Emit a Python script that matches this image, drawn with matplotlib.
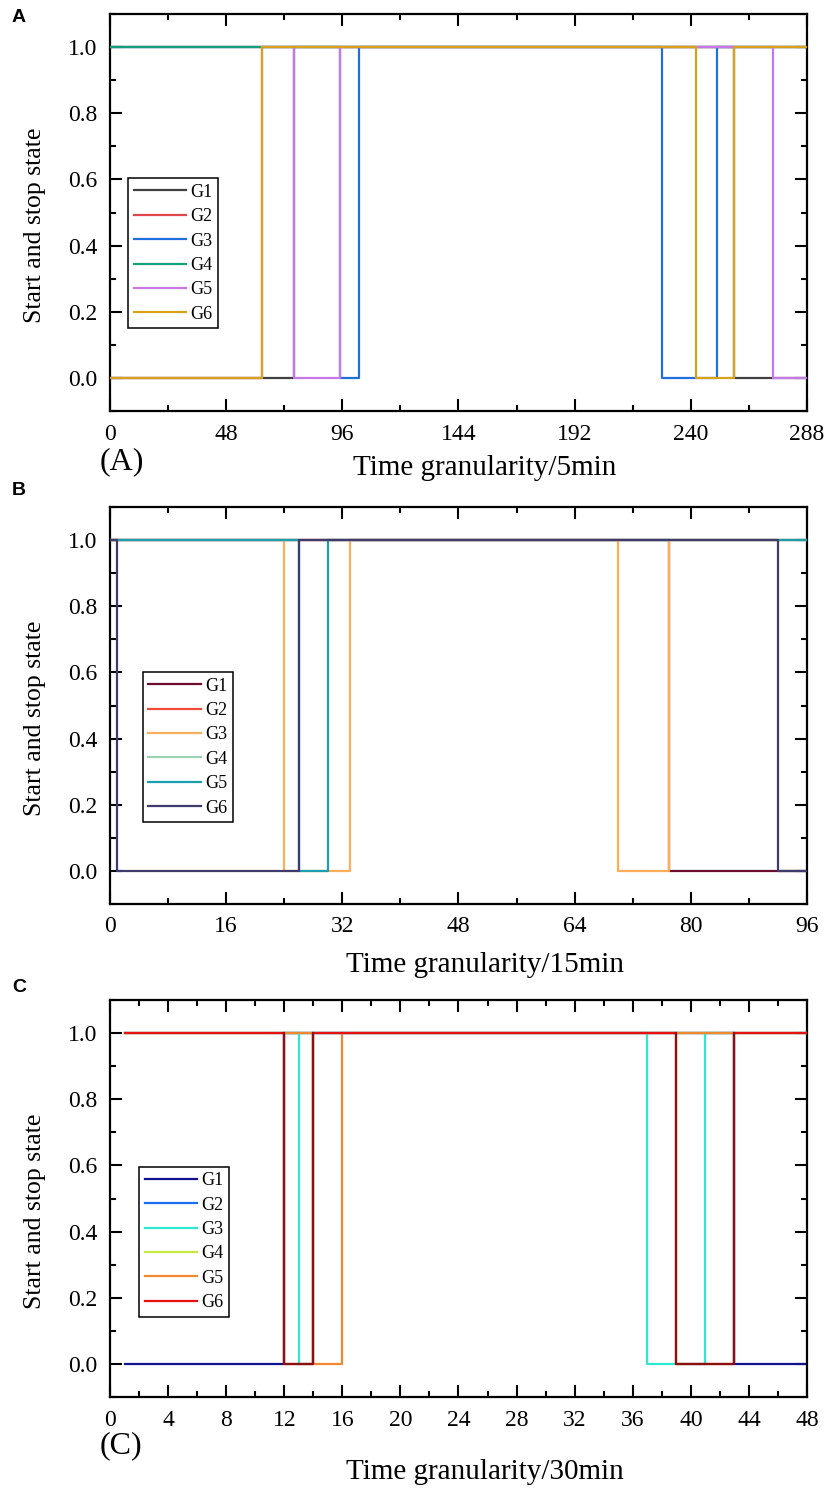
import matplotlib
matplotlib.use("Agg")
import matplotlib.pyplot as plt
from matplotlib.ticker import MultipleLocator

plt.rcParams["font.family"] = ["Liberation Serif", "DejaVu Serif"]

LABELS = ["G1", "G2", "G3", "G4", "G5", "G6"]

# (A) 5 min granularity: off windows (start, end) per unit
a_span = (0, 288)
a_off = [
    [(0, 76), (258, 288)],
    [],
    [(95, 103), (228, 251)],
    [],
    [(0, 63), (76, 95), (274, 288)],
    [(0, 63), (242, 258)],
]
a_colors = ["#404040", "#e0474c", "#1f6fe0", "#14a07a", "#c678e8", "#d9a01a"]

# (B) 15 min granularity
b_span = (0, 96)
b_off = [
    [(77, 96)],
    [],
    [(24, 33), (70, 77)],
    [],
    [(26, 30)],
    [(1, 26), (92, 96)],
]
b_colors = ["#6a0d2e", "#f04a3a", "#fdae5a", "#9bd4b4", "#1a9fb0", "#3f3b6c"]

# (C) 30 min granularity
c_span = (1, 48)
c_off = [
    [(1, 12), (43, 48)],
    [],
    [(13, 14), (37, 41)],
    [],
    [(14, 16)],
    [(12, 14), (39, 43)],
]
c_trip = [(12, 14), (39, 43)]  # dark red switching traces, no legend entry
c_colors = ["#10128f", "#1a6ff0", "#2ee8d0", "#c8e840", "#f08830", "#e81010"]
c_trip_color = "#8b1010"


def step_xy(off, t0, t1):
    xs, ys = [t0], [0 if off and off[0][0] <= t0 else 1]
    for a, b in off:
        if a > t0:
            xs += [a, a]
            ys += [1, 0]
        if b < t1:
            xs += [b, b]
            ys += [0, 1]
    xs.append(t1)
    ys.append(ys[-1])
    return xs, ys


def draw_panel(ax, span, offs, colors, xmajor, xminor, xlabel, legend_xy, xlabel_y):
    for i, (off, col) in enumerate(zip(offs, colors)):
        xs, ys = step_xy(off, *span)
        ax.plot(xs, ys, color=col, lw=1.6, label=LABELS[i], zorder=2 + i)
    ax.set_xlim(0, xmajor * round(span[1] / xmajor))
    ax.set_ylim(-0.1, 1.1)
    ax.xaxis.set_major_locator(MultipleLocator(xmajor))
    ax.xaxis.set_minor_locator(MultipleLocator(xminor))
    ax.yaxis.set_major_locator(MultipleLocator(0.2))
    ax.yaxis.set_minor_locator(MultipleLocator(0.1))
    ax.yaxis.set_major_formatter(lambda v, p: f"{v:.1f}")
    ax.tick_params(which="both", direction="in", top=True, right=True,
                   width=1.5, labelsize=17)
    ax.tick_params(which="major", length=8.5)
    ax.tick_params(which="minor", length=4.5)
    ax.tick_params(axis="x", pad=9)
    ax.tick_params(axis="y", pad=9)
    for sp in ax.spines.values():
        sp.set_linewidth(1.6)
    ax.set_xlabel(xlabel, fontsize=21)
    ax.xaxis.set_label_coords(0.538, xlabel_y)
    ax.xaxis.label.set_va("center")
    ax.set_ylabel("Start and stop state", fontsize=18.5)
    ax.yaxis.set_label_coords(-0.108, 0.467)
    ax.yaxis.label.set_va("center")
    leg = ax.legend(loc="upper left", bbox_to_anchor=legend_xy, fontsize=13,
                    handlelength=2.9, handletextpad=0.25, labelspacing=0.41,
                    borderpad=0.3, fancybox=False, framealpha=1,
                    edgecolor="black", borderaxespad=0)
    leg.get_frame().set_linewidth(1.1)
    leg.set_zorder(20)


fig = plt.figure(figsize=(8.29, 14.88), dpi=100)
left, width, height = 110 / 829, 697 / 829, 397 / 1488
ax_a = fig.add_axes([left, (1488 - 411) / 1488, width, height])
ax_b = fig.add_axes([left, (1488 - 904) / 1488, width, height])
ax_c = fig.add_axes([left, (1488 - 1397) / 1488, width, height])

draw_panel(ax_a, a_span, a_off, a_colors, 48, 24, "Time granularity/5min",
           (0.026, 0.586), -0.143)
draw_panel(ax_b, b_span, b_off, b_colors, 16, 8, "Time granularity/15min",
           (0.047, 0.584), -0.154)
draw_panel(ax_c, c_span, c_off, c_colors, 4, 2, "Time granularity/30min",
           (0.042, 0.58), -0.189)
for a, b in c_trip:
    ax_c.plot([a, a, b, b], [1, 0, 0, 1], color=c_trip_color, lw=1.6, zorder=9)

for txt, y in [("A", 18), ("B", 490), ("C", 987)]:
    fig.text(12 / 829, 1 - y / 1488, txt, fontsize=14, fontweight="bold",
             family="Liberation Sans", va="center", ha="left")
fig.text(100 / 829, 1 - 462 / 1488, "(A)", fontsize=23, va="center", ha="left")
fig.text(100 / 829, 1 - 1446 / 1488, "(C)", fontsize=23, va="center", ha="left")

fig.savefig("out.png", dpi=100)
